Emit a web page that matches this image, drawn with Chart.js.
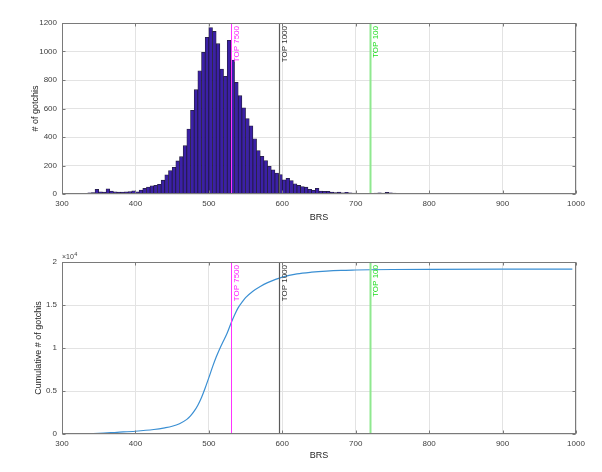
<!DOCTYPE html>
<html><head><meta charset="utf-8">
<script src="https://cdn.jsdelivr.net/npm/chart.js@4"></script>
<style>
html,body{margin:0;padding:0;background:#fff;}
#wrap{position:relative;width:602px;height:472px;overflow:hidden;}
.box{position:absolute;left:0;width:602px;height:236px;}
canvas{display:block;}
</style></head><body>
<div id="wrap">
<div class="box" style="top:0"><canvas id="c1" width="602" height="236"></canvas></div>
<div class="box" style="top:236px"><canvas id="c2" width="602" height="236"></canvas></div>
</div>
<script>
// ---- data ----
const binEdges = [325,330,335,340,345,350,355,360,365,370,375,380,385,390,395,
  400,405,410,415,420,425,430,435,440,445,450,455,460,465,470,475,480,485,490,495,
  500,505,510,515,520,525,530,535,540,545,550,555,560,565,570,575,580,585,590,595,
  600,605,610,615,620,625,630,635,640,645,650,655,660,665,670,675,680,685,690,695,
  700,705,710,715,720,725,730,735,740,745,750,755,760,765];
const binCounts = [3,5,8,10,33,15,14,36,21,16,14,14,15,17,23,
  15,28,40,49,58,61,68,97,135,164,187,232,262,339,456,587,732,865,994,1099,
  1168,1141,1055,877,826,1078,940,784,690,605,530,478,388,305,265,235,195,170,147,136,
  100,110,95,72,60,52,48,33,26,40,20,19,19,14,10,14,9,12,8,7,
  4,3,3,2,2,7,9,7,11,9,7,5,3,3];
const binWidth = 5;

const cumBRS =   [300,325,350,375,400,425,440,450,460,470,475,480,485,490,495,500,505,510,515,520,525,530,535,540,545,550,560,570,580,590,600,620,640,660,680,700,720,750,800,900,995];
const cumCount = [0,10,80,200,320,520,720,900,1200,1700,2100,2650,3350,4250,5350,6550,7800,8950,9950,10850,11750,12850,13850,14700,15300,15850,16600,17150,17600,17950,18250,18620,18820,18950,19030,19070,19100,19130,19150,19160,19160];

const markerBRS = [530, 595, 720];
const markerLabels = ['TOP 7500', 'TOP 1000', 'TOP 100'];
const markerLineColors = ['#ff33ff', '#5a5a5a', '#8fe88f'];
const markerTextColors = ['#ff22ff', '#333333', '#22dd22'];
const markerLineWidths = [1, 1.2, 2];

const xTicks = [300,400,500,600,700,800,900,1000];
const histYTicks = [0,200,400,600,800,1000,1200];
const cumYTicks = [0,5000,10000,15000,20000];

// ---- style ----
const FAM = '"Liberation Sans", Arial, Helvetica, sans-serif';
const GRID = '#e3e3e3';
const BOXC = '#7a7a7a';
const TICKC = '#404040';

const framePlugin = {
  id: 'frame',
  afterDatasetsDraw(chart) {
    const {ctx, chartArea: a, scales: {x}} = chart;
    markerBRS.forEach((v, i) => {
      const px = Math.round(x.getPixelForValue(v)) + 0.5;
      ctx.save();
      ctx.strokeStyle = markerLineColors[i];
      ctx.lineWidth = markerLineWidths[i];
      ctx.beginPath(); ctx.moveTo(px, a.top); ctx.lineTo(px, a.bottom); ctx.stroke();
      ctx.translate(px + 1.5, a.top + 3);
      ctx.rotate(-Math.PI / 2);
      ctx.fillStyle = markerTextColors[i];
      ctx.font = '8px ' + FAM;
      ctx.textAlign = 'right'; ctx.textBaseline = 'top';
      ctx.fillText(markerLabels[i], 0, 0);
      ctx.restore();
    });
  },
  afterDraw(chart) {
    const {ctx, chartArea: a, scales: {x, y}} = chart;
    ctx.save();
    ctx.strokeStyle = BOXC; ctx.lineWidth = 1;
    const L = Math.round(a.left) + 0.5, R = Math.round(a.right) - 0.5;
    const T = Math.round(a.top) + 0.5, B = Math.round(a.bottom) - 0.5;
    ctx.strokeRect(L, T, R - L, B - T);
    ctx.beginPath();
    x.ticks.forEach(t => {
      const p = Math.round(x.getPixelForValue(t.value)) + 0.5;
      ctx.moveTo(p, B); ctx.lineTo(p, B - 3);
      ctx.moveTo(p, T); ctx.lineTo(p, T + 3);
    });
    y.ticks.forEach(t => {
      const p = Math.round(y.getPixelForValue(t.value)) + 0.5;
      ctx.moveTo(L, p); ctx.lineTo(L + 3, p);
      ctx.moveTo(R, p); ctx.lineTo(R - 3, p);
    });
    ctx.stroke();
    if (chart.options.plugins.frame && chart.options.plugins.frame.exponent) {
      ctx.fillStyle = TICKC;
      ctx.textBaseline = 'alphabetic';
      ctx.textAlign = 'left';
      ctx.font = '7px ' + FAM;
      ctx.fillText('\u00d710', a.left, a.top - 3);
      const w = ctx.measureText('\u00d710').width;
      ctx.font = '5.5px ' + FAM;
      ctx.fillText('4', a.left + w + 0.5, a.top - 6);
    }
    ctx.restore();
  }
};

function xScale(h, pb) {
  return {
    type: 'linear', min: 300, max: 1000, offset: false,
    afterBuildTicks: s => { s.ticks = xTicks.map(v => ({value: v})); },
    ticks: {font: {size: 8, family: FAM}, color: TICKC, padding: 5, maxRotation: 0, autoSkip: false, callback: v => String(v)},
    grid: {color: GRID, drawTicks: false, lineWidth: 1, offset: false},
    border: {display: false},
    title: {display: true, text: 'BRS', font: {size: 9, family: FAM}, color: '#262626', padding: {top: 0, bottom: pb}},
    afterFit: s => { s.height = h; }
  };
}
function yScale(max, ticksArr, title, pt, cb) {
  return {
    type: 'linear', min: 0, max: max,
    afterBuildTicks: s => { s.ticks = ticksArr.map(v => ({value: v})); },
    ticks: {font: {size: 8, family: FAM}, color: TICKC, padding: 5, callback: cb},
    grid: {color: GRID, drawTicks: false, lineWidth: 1},
    border: {display: false},
    title: {display: true, text: title, font: {size: 9, family: FAM}, color: '#262626', padding: {top: pt, bottom: 0}},
    afterFit: s => { s.width = 62; }
  };
}

new Chart(document.getElementById('c1'), {
  type: 'bar',
  data: {
    datasets: [{
      data: binEdges.map((e, i) => ({x: e + binWidth / 2, y: binCounts[i]})),
      backgroundColor: '#3b20a6',
      borderColor: 'rgba(15,8,45,0.9)',
      borderWidth: 0.8,
      barPercentage: 1, categoryPercentage: 1
    }]
  },
  options: {
    responsive: false, animation: false, devicePixelRatio: 1,
    layout: {padding: {top: 23, right: 26, left: 0, bottom: 0}},
    plugins: {legend: {display: false}, tooltip: {enabled: false}, frame: {}},
    scales: {
      x: xScale(42, 13.5),
      y: yScale(1200, histYTicks, '# of gotchis', 30, v => String(v))
    }
  },
  plugins: [framePlugin]
});

new Chart(document.getElementById('c2'), {
  type: 'line',
  data: {
    datasets: [{
      data: cumBRS.map((b, i) => ({x: b, y: cumCount[i]})),
      borderColor: '#3a8fd3',
      borderWidth: 1.2,
      pointRadius: 0,
      cubicInterpolationMode: 'monotone',
      fill: false
    }]
  },
  options: {
    responsive: false, animation: false, devicePixelRatio: 1,
    layout: {padding: {top: 26, right: 26, left: 0, bottom: 0}},
    plugins: {legend: {display: false}, tooltip: {enabled: false}, frame: {exponent: true}},
    scales: {
      x: xScale(38, 10.9),
      y: yScale(20000, cumYTicks, 'Cumulative # of gotchis', 33, v => String(v / 10000))
    }
  },
  plugins: [framePlugin]
});
</script>
</body></html>
